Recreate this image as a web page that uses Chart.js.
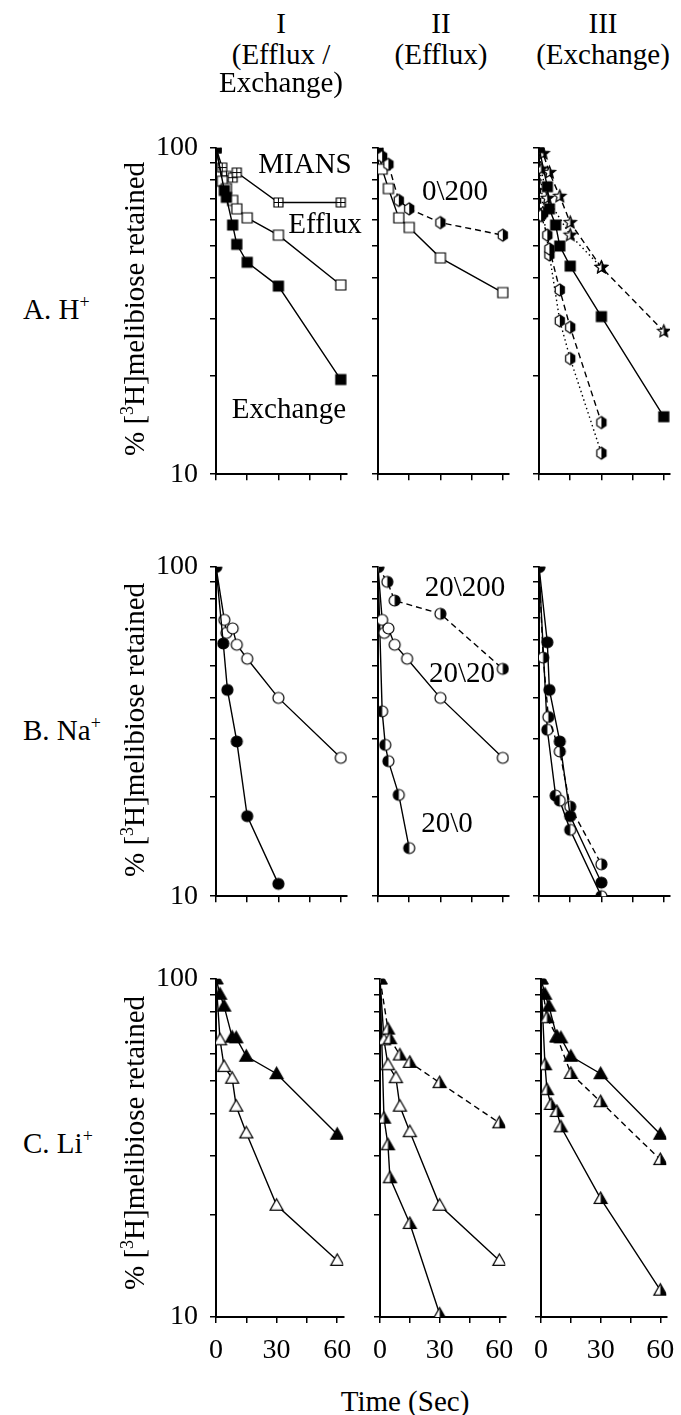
<!DOCTYPE html>
<html><head><meta charset="utf-8">
<script src="https://cdn.jsdelivr.net/npm/chart.js@4.4.1/dist/chart.umd.min.js"></script>
<style>
html,body{margin:0;padding:0;background:#fff;}
body{width:681px;height:1415px;position:relative;overflow:hidden;font-family:'Liberation Serif','Times New Roman',serif;color:#000;}
canvas{position:absolute;}
.t{position:absolute;font-size:29px;line-height:1;white-space:nowrap;transform:translate(-50%,-50%);}
.rl{position:absolute;font-size:29px;line-height:1;white-space:nowrap;transform:translate(0,-50%);}
.yt{position:absolute;font-size:29px;line-height:1;white-space:nowrap;transform:translate(-50%,-50%) rotate(-90deg);}
.sup{font-size:0.62em;position:relative;top:-0.6em;}
</style></head><body>

<div class="t" style="left:281px;top:23px">I</div>
<div class="t" style="left:281px;top:54px">(Efflux /</div>
<div class="t" style="left:281px;top:82px">Exchange)</div>
<div class="t" style="left:441px;top:23px">II</div>
<div class="t" style="left:441px;top:54px">(Efflux)</div>
<div class="t" style="left:603px;top:23px">III</div>
<div class="t" style="left:603px;top:54px">(Exchange)</div>

<div class="rl" style="left:23px;top:309px">A. H<span class="sup">+</span></div>
<div class="rl" style="left:23px;top:730px">B. Na<span class="sup">+</span></div>
<div class="rl" style="left:23px;top:1143px">C. Li<span class="sup">+</span></div>

<div class="yt" style="left:134px;top:309px">% [<span class="sup">3</span>H]melibiose retained</div>
<div class="yt" style="left:134px;top:730px">% [<span class="sup">3</span>H]melibiose retained</div>
<div class="yt" style="left:134px;top:1143px">% [<span class="sup">3</span>H]melibiose retained</div>

<div class="t" style="left:405px;top:1401px">Time (Sec)</div>

<script>
// ---------------- DATA ----------------
const X_TICKS = [0, 15, 30, 45, 60];
const X_LABELS = [0, 30, 60];
const Y_TICKS = [10, 20, 30, 40, 50, 60, 70, 80, 90, 100];
const Y_LABELS = [10, 100];

// Row A (H+), column I
const A1_EXCH_T = [0, 4, 5, 8, 10, 15, 30, 60];
const A1_EXCH_V = [100, 74, 70.5, 58, 50.6, 44.6, 37.7, 19.5];
const A1_EFF_T = [0, 3, 5, 8, 10, 15, 30, 60];
const A1_EFF_V = [100, 79, 75, 69, 65, 61, 54, 38];
const A1_MIANS_T = [0, 3, 5, 8, 10, 30, 60];
const A1_MIANS_V = [100, 87, 82, 81, 84, 68, 68];
// Row A, column II
const A2_0200_T = [0, 2, 5, 10, 15, 30, 60];
const A2_0200_V = [100, 94, 89, 69, 65, 59, 54];
const A2_EFF_T = [0, 2, 5, 10, 15, 30, 60];
const A2_EFF_V = [100, 86, 75, 61, 57, 46, 36];
// Row A, column III
const A3_SQ_T = [0, 4, 5, 8, 10, 15, 30, 60];
const A3_SQ_V = [100, 76, 65, 58, 50, 43.4, 30.4, 15];
const A3_STAR1_T = [0, 2, 5, 10, 15, 30, 60];
const A3_STAR1_V = [100, 96, 84, 71, 59, 43, 27.4];
const A3_STAR2_T = [0, 1, 4, 15, 30];
const A3_STAR2_V = [100, 86, 70, 54, 43];
const A3_HEX1_T = [0, 1, 4, 5, 10, 15, 30];
const A3_HEX1_V = [100, 62, 54, 49, 36.7, 28.2, 14.4];
const A3_HEX2_T = [0, 2, 5, 10, 15, 30];
const A3_HEX2_V = [100, 63, 47, 29.5, 22.6, 11.6];
// Row B (Na+), column I
const B1_FILL_T = [0, 3.5, 5.5, 10, 15, 30];
const B1_FILL_V = [100, 58.5, 42.3, 29.5, 17.5, 10.9];
const B1_OPEN_T = [0, 4, 5, 8, 10, 15, 30, 60];
const B1_OPEN_V = [100, 69, 63, 65, 58, 52.6, 40, 26.3];
// Row B, column II
const B2_20200_T = [0, 4.5, 8, 30, 60];
const B2_20200_V = [100, 90, 79, 72, 49];
const B2_2020_T = [0, 2, 3, 5, 8, 14, 30, 60];
const B2_2020_V = [100, 69, 63, 65, 58, 52.6, 40, 26.3];
const B2_200_T = [0, 2, 3.5, 5, 10, 15];
const B2_200_V = [100, 36.4, 28.8, 25.7, 20.3, 14];
// Row B, column III
const B3_FILL_T = [0, 4, 5, 10, 15, 30];
const B3_FILL_V = [100, 59, 42.3, 29.5, 17.5, 11];
const B3_HALFD_T = [0, 2, 4.5, 10, 15, 30];
const B3_HALFD_V = [100, 53, 35, 27.5, 18.7, 12.5];
const B3_HALFS_T = [0, 4, 8, 10, 15, 30];
const B3_HALFS_V = [100, 32, 20.2, 19.5, 15.9, 10];
// Row C (Li+), column I
const C1_FILL_T = [0, 2, 4, 8, 10, 15, 30, 60];
const C1_FILL_V = [100, 90, 83, 67.2, 66.9, 59, 52.4, 34.7];
const C1_OPEN_T = [0, 2, 4, 8, 10, 15, 30, 60];
const C1_OPEN_V = [100, 66, 55, 50.8, 42, 35, 21.4, 14.7];
// Row C, column II
const C2_HALFD_T = [0, 4, 5, 10, 15, 30, 60];
const C2_HALFD_V = [100, 71, 66.5, 59.5, 56.6, 49.3, 37.5];
const C2_OPEN_T = [0, 2, 4, 8, 10, 15, 30, 60];
const C2_OPEN_V = [100, 66, 55.7, 51, 42, 35.3, 21.4, 14.7];
const C2_HALFS_T = [0, 2, 4, 5, 15, 30];
const C2_HALFS_V = [100, 38.7, 32.3, 25.8, 18.9, 10.2];
// Row C, column III
const C3_FILL_T = [0, 2, 4, 8, 10, 15, 30, 60];
const C3_FILL_V = [100, 90, 83, 67.2, 66.9, 59, 52.4, 34.7];
const C3_HALFD_T = [0, 3, 8, 15, 30, 60];
const C3_HALFD_V = [100, 76.7, 67.5, 52.5, 43.3, 29.2];
const C3_HALFS_T = [0, 2, 3, 5, 8, 10, 30, 60];
const C3_HALFS_V = [100, 55.7, 47, 42.5, 40.5, 36.5, 22.4, 12];

// ---------------- LAYOUT ----------------
const COLS = [
  {L: 216, W: 131, yw: 80, labels: true},
  {L: 378, W: 131, yw: 16, labels: false},
  {L: 539, W: 131, yw: 16, labels: false}
];
const ROWS = [
  {T: 137, B: 481, xh: 22, labels: false},
  {T: 556, B: 903, xh: 22, labels: false},
  {T: 968, B: 1317, xh: 62, labels: true}
];
const FONT = "'Liberation Serif', 'Times New Roman', serif";

// ---------------- MARKERS ----------------
function marker(shape, fill, size) {
  const pad = 2;
  const c = document.createElement('canvas');
  c.width = c.height = Math.ceil(size + pad * 2);
  const g = c.getContext('2d');
  const cx = c.width / 2, cy = c.height / 2, r = size / 2;
  function path() {
    g.beginPath();
    if (shape === 'square') {
      g.rect(cx - r, cy - r, size, size);
    } else if (shape === 'circle') {
      g.arc(cx, cy, r, 0, Math.PI * 2);
    } else if (shape === 'triangle') {
      g.moveTo(cx, cy - r);
      g.lineTo(cx + r, cy + r * 0.75);
      g.lineTo(cx - r, cy + r * 0.75);
      g.closePath();
    } else if (shape === 'hexagon') {
      for (let i = 0; i < 6; i++) {
        const a = -Math.PI / 2 + i * Math.PI / 3;
        const px = cx + r * 0.88 * Math.cos(a), py = cy + r * Math.sin(a);
        if (i === 0) g.moveTo(px, py); else g.lineTo(px, py);
      }
      g.closePath();
    } else if (shape === 'star') {
      for (let i = 0; i < 10; i++) {
        const a = -Math.PI / 2 + i * Math.PI / 5;
        const rr = (i % 2 === 0) ? r : r * 0.45;
        const px = cx + rr * Math.cos(a), py = cy + rr * Math.sin(a);
        if (i === 0) g.moveTo(px, py); else g.lineTo(px, py);
      }
      g.closePath();
    }
  }
  path();
  g.fillStyle = '#fff';
  g.fill();
  if (fill === 'full') {
    g.fillStyle = '#000';
    g.fill();
  } else if (fill === 'left' || fill === 'right') {
    g.save();
    path();
    g.clip();
    g.fillStyle = '#000';
    if (fill === 'left') g.fillRect(0, 0, cx, c.height);
    else g.fillRect(cx, 0, c.width - cx, c.height);
    g.restore();
  }
  path();
  g.lineWidth = 1.2;
  g.strokeStyle = '#000';
  g.stroke();
  if (fill === 'cross') {
    g.beginPath();
    g.moveTo(cx, cy - r); g.lineTo(cx, cy + r);
    g.moveTo(cx - r, cy); g.lineTo(cx + r, cy);
    g.lineWidth = 1;
    g.stroke();
  }
  return c;
}

const M = {
  sqFull: marker('square', 'full', 10),
  sqOpen: marker('square', 'none', 10),
  sqCross: marker('square', 'cross', 9),
  circFull: marker('circle', 'full', 11),
  circOpen: marker('circle', 'none', 11),
  circRight: marker('circle', 'right', 11),
  circLeft: marker('circle', 'left', 11),
  triFull: marker('triangle', 'full', 13),
  triOpen: marker('triangle', 'none', 13),
  triRight: marker('triangle', 'right', 13),
  hexRight: marker('hexagon', 'right', 12),
  starHalf: marker('star', 'right', 13)
};
const SOLID = [], DASH = [6, 4], DOT = [1.5, 3];

function S(t, v, m, dash) { return {t, v, m, dash}; }

const PANELS = [
  [0, 0, [S(A1_EXCH_T, A1_EXCH_V, M.sqFull, SOLID), S(A1_EFF_T, A1_EFF_V, M.sqOpen, SOLID), S(A1_MIANS_T, A1_MIANS_V, M.sqCross, SOLID)]],
  [0, 1, [S(A2_0200_T, A2_0200_V, M.hexRight, DASH), S(A2_EFF_T, A2_EFF_V, M.sqOpen, SOLID)]],
  [0, 2, [S(A3_SQ_T, A3_SQ_V, M.sqFull, SOLID), S(A3_STAR1_T, A3_STAR1_V, M.starHalf, DASH), S(A3_STAR2_T, A3_STAR2_V, M.starHalf, DOT),
          S(A3_HEX1_T, A3_HEX1_V, M.hexRight, DASH), S(A3_HEX2_T, A3_HEX2_V, M.hexRight, DOT)]],
  [1, 0, [S(B1_FILL_T, B1_FILL_V, M.circFull, SOLID), S(B1_OPEN_T, B1_OPEN_V, M.circOpen, SOLID)]],
  [1, 1, [S(B2_20200_T, B2_20200_V, M.circRight, DASH), S(B2_2020_T, B2_2020_V, M.circOpen, SOLID), S(B2_200_T, B2_200_V, M.circLeft, SOLID)]],
  [1, 2, [S(B3_FILL_T, B3_FILL_V, M.circFull, SOLID), S(B3_HALFD_T, B3_HALFD_V, M.circRight, DASH), S(B3_HALFS_T, B3_HALFS_V, M.circLeft, SOLID)]],
  [2, 0, [S(C1_FILL_T, C1_FILL_V, M.triFull, SOLID), S(C1_OPEN_T, C1_OPEN_V, M.triOpen, SOLID)]],
  [2, 1, [S(C2_HALFD_T, C2_HALFD_V, M.triRight, DASH), S(C2_OPEN_T, C2_OPEN_V, M.triOpen, SOLID), S(C2_HALFS_T, C2_HALFS_V, M.triRight, SOLID)]],
  [2, 2, [S(C3_FILL_T, C3_FILL_V, M.triFull, SOLID), S(C3_HALFD_T, C3_HALFD_V, M.triRight, DASH), S(C3_HALFS_T, C3_HALFS_V, M.triRight, SOLID)]]
];

function buildPanel(r, c, series) {
  const row = ROWS[r], col = COLS[c];
  const padT = 18, padR = 16;
  const w = col.W + col.yw + padR;
  const h = (row.B - row.T) + padT + row.xh;
  const cv = document.createElement('canvas');
  cv.width = w; cv.height = h;
  cv.style.left = (col.L - col.yw) + 'px';
  cv.style.top = (row.T - padT) + 'px';
  cv.style.width = w + 'px';
  cv.style.height = h + 'px';
  document.body.insertBefore(cv, document.body.firstChild);
  new Chart(cv, {
    type: 'line',
    data: {
      datasets: series.map(s => ({
        data: s.t.map((t, i) => ({x: t, y: s.v[i]})),
        borderColor: '#000',
        borderWidth: 1.4,
        borderDash: s.dash,
        pointStyle: s.m,
        pointRadius: 6,
        pointHoverRadius: 6,
        fill: false,
        tension: 0
      }))
    },
    options: {
      responsive: false,
      animation: false,
      devicePixelRatio: 1,
      events: [],
      layout: {padding: {top: padT, right: padR, left: 0, bottom: 0}},
      plugins: {legend: {display: false}, tooltip: {enabled: false}},
      scales: {
        x: {
          type: 'linear', min: 0, max: 63,
          afterBuildTicks: s => { s.ticks = X_TICKS.map(v => ({value: v})); },
          afterFit: s => { s.height = row.xh; },
          border: {display: true, color: '#000', width: 2},
          grid: {drawOnChartArea: false, drawTicks: true, tickLength: 6, color: '#000', lineWidth: 1.5},
          ticks: {
            autoSkip: false, maxRotation: 0, padding: 11, color: '#000',
            font: {family: FONT, size: 28},
            callback: v => (row.labels && X_LABELS.includes(v)) ? String(v) : ''
          }
        },
        y: {
          type: 'logarithmic', min: 10, max: 100,
          afterBuildTicks: s => { s.ticks = Y_TICKS.map(v => ({value: v})); },
          afterFit: s => { s.width = col.yw; },
          border: {display: true, color: '#000', width: 2},
          grid: {drawOnChartArea: false, drawTicks: true, tickLength: 6, color: '#000', lineWidth: 1.5},
          ticks: {
            autoSkip: false, padding: 12, color: '#000',
            font: {family: FONT, size: 28},
            callback: v => (col.labels && Y_LABELS.includes(v)) ? String(v) : ''
          }
        }
      }
    }
  });
}

PANELS.forEach(p => buildPanel(p[0], p[1], p[2]));
</script>

<div class="t" style="left:305px;top:163px">MIANS</div>
<div class="t" style="left:325px;top:223px">Efflux</div>
<div class="t" style="left:289px;top:408px">Exchange</div>
<div class="t" style="left:455px;top:190px">0\200</div>
<div class="t" style="left:465px;top:586px">20\200</div>
<div class="t" style="left:462px;top:672px">20\20</div>
<div class="t" style="left:447px;top:822px">20\0</div>
</body></html>
